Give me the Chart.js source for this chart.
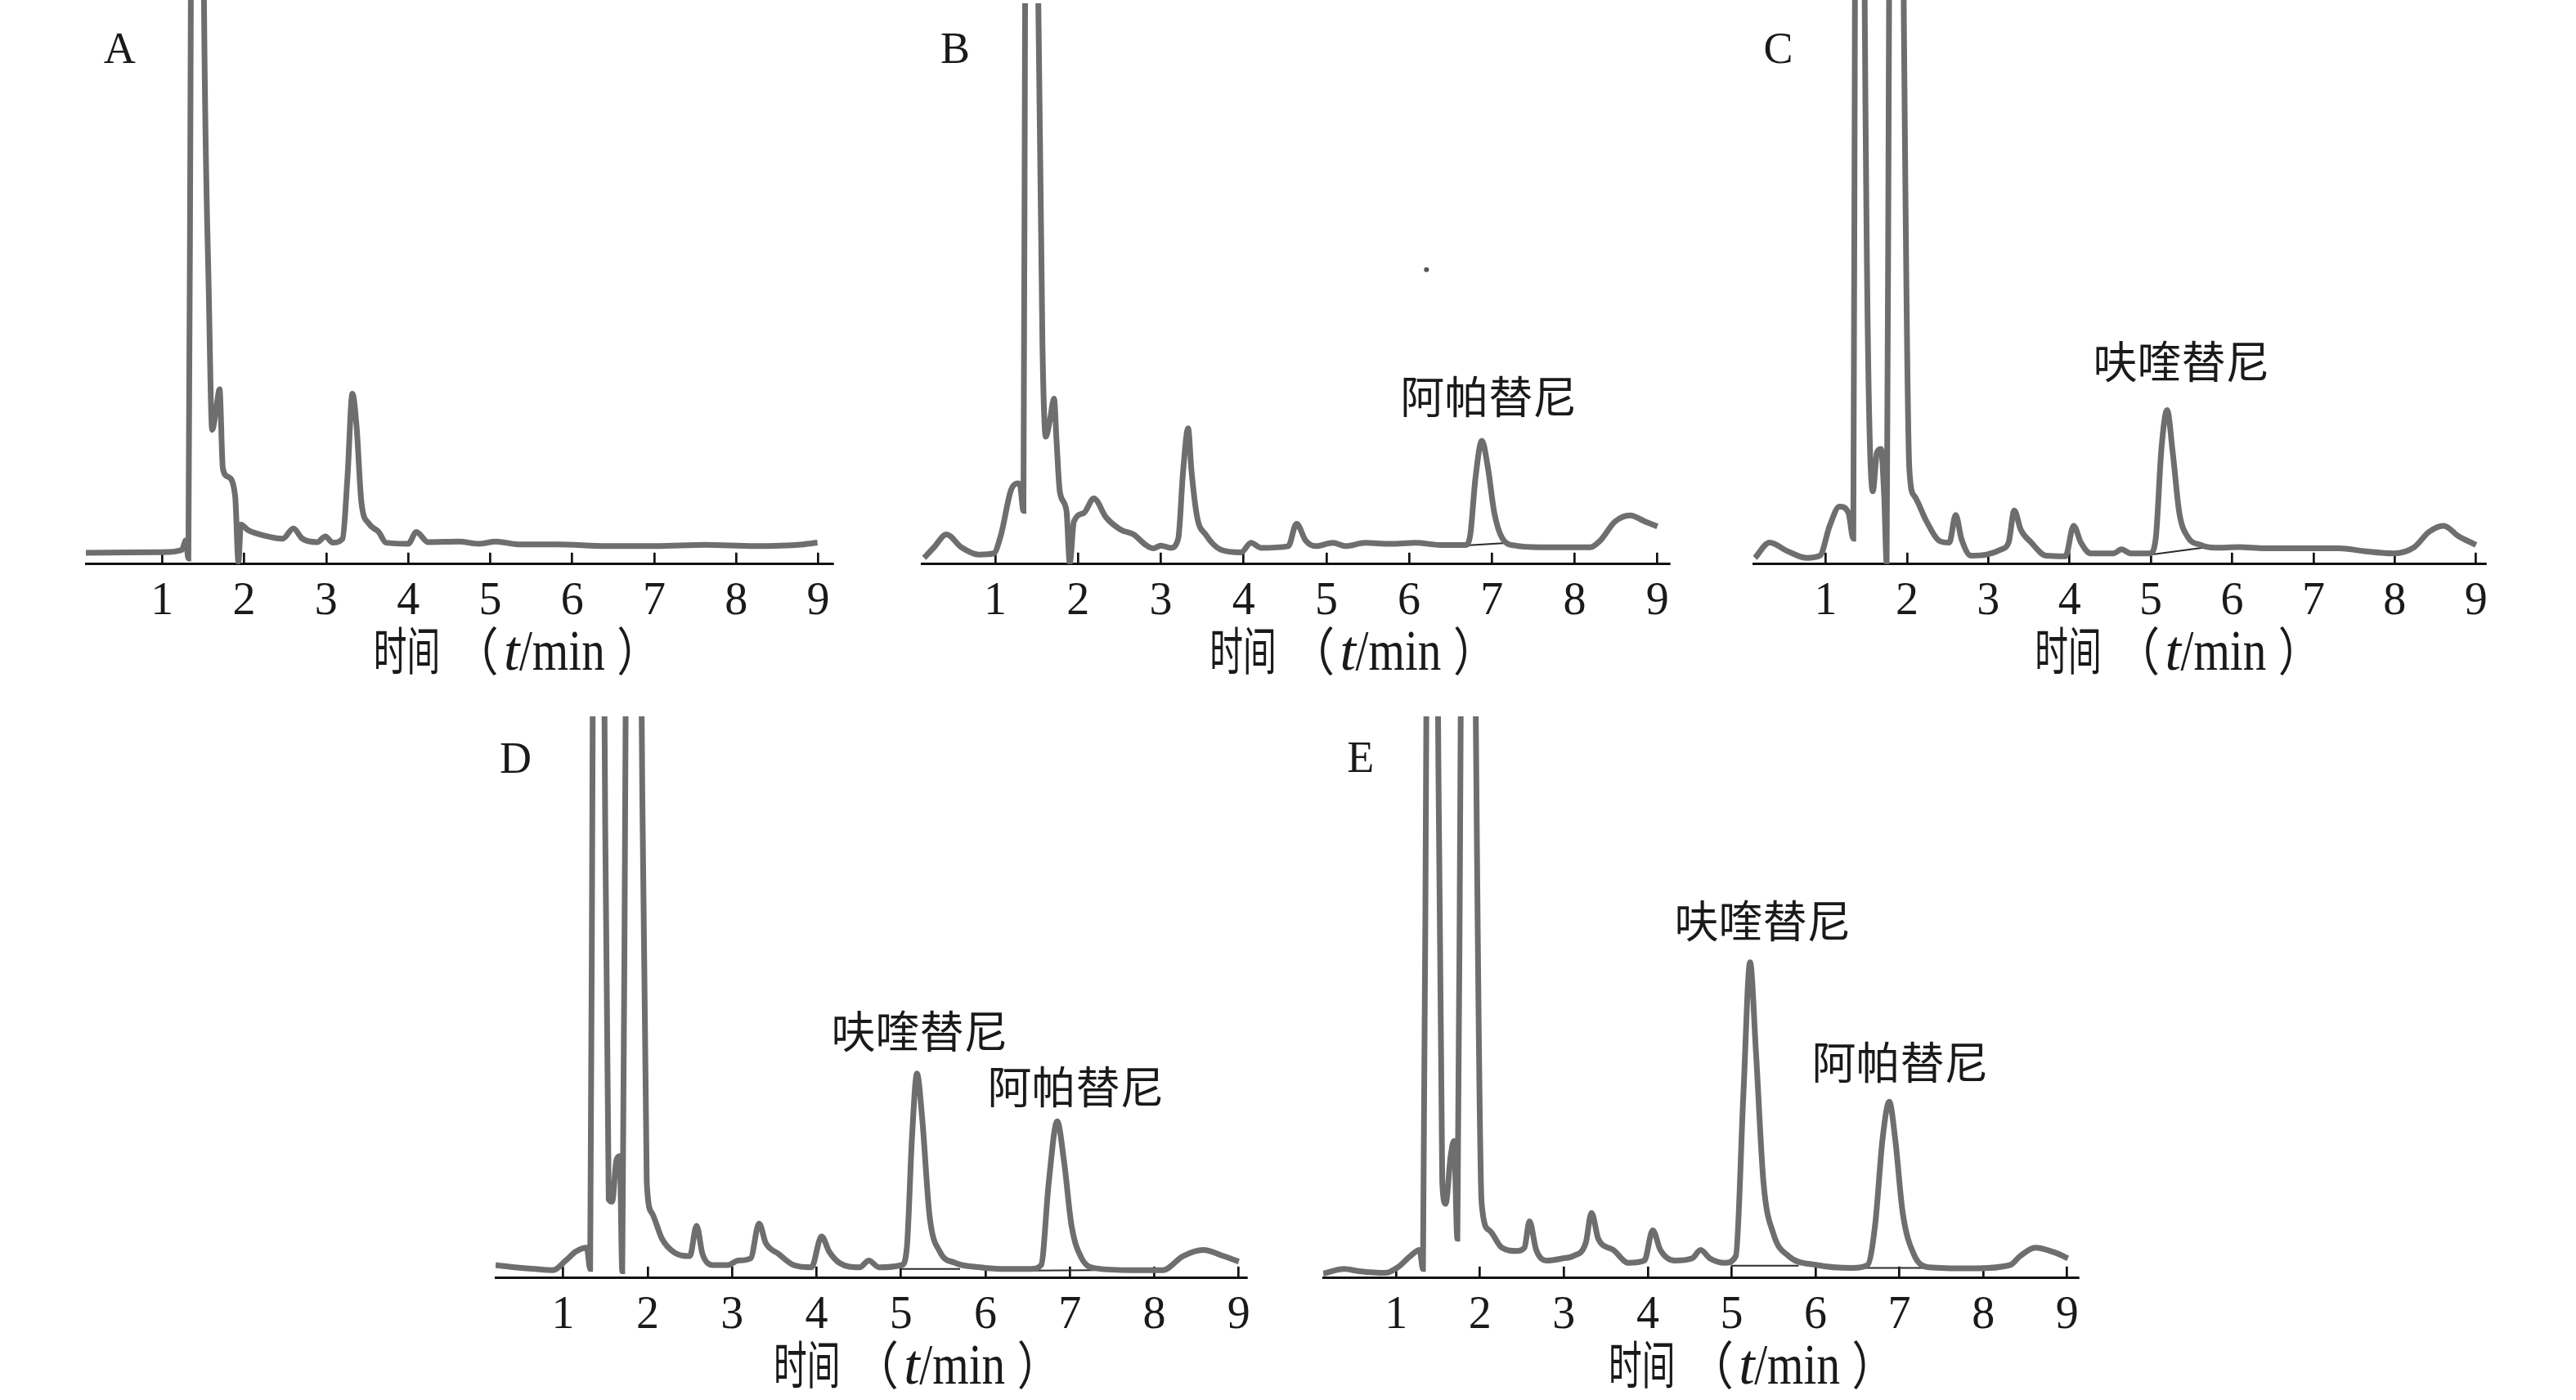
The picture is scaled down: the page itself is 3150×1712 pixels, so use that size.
<!DOCTYPE html>
<html>
<head>
<meta charset="utf-8">
<script src="https://cdn.jsdelivr.net/npm/chart.js@4.4.1/dist/chart.umd.min.js"></script>
<style>
  html, body { margin: 0; padding: 0; background: #fff; }
  body { width: 3150px; height: 1712px; position: relative; overflow: hidden; }
  canvas { position: absolute; }
</style>
</head>
<body>
<canvas id="chartA"></canvas>
<canvas id="chartB"></canvas>
<canvas id="chartC"></canvas>
<canvas id="chartD"></canvas>
<canvas id="chartE"></canvas>
<script>
// x ticks (min)
const tickValues = [1, 2, 3, 4, 5, 6, 7, 8, 9];
const tickLabels = ['1', '2', '3', '4', '5', '6', '7', '8', '9'];

// signal is in % of the plotted height; the solvent peaks run off the top
const timeA = [0.07, 1.00, 1.24, 1.29, 1.32, 1.35, 1.43, 1.51, 1.57, 1.61, 1.66, 1.70, 1.74, 1.80, 1.89, 1.93, 1.96, 2.05, 2.23, 2.47,
  2.60, 2.71, 2.89, 2.99, 3.08, 3.20, 3.26, 3.32, 3.37, 3.43, 3.52, 3.64, 3.73, 4.00, 4.10, 4.24, 4.62, 4.86, 5.07, 5.34,
  5.82, 6.42, 7.02, 7.62, 8.22, 8.82, 8.99];
const signalA = [2.0, 2.1, 2.5, 4.2, 1.0, 100, 300, 100, 47.2, 23.8, 27.6, 31.0, 17.0, 15.5, 12.1, 0.4, 7.0, 6.0, 5.1, 4.5,
  6.3, 4.5, 3.9, 4.9, 3.8, 4.5, 15.5, 30.2, 24.5, 10.9, 7.2, 5.7, 3.8, 3.6, 5.7, 3.9, 4.0, 3.6, 4.0, 3.5,
  3.5, 3.2, 3.2, 3.4, 3.2, 3.5, 3.8];

const timeB = [0.14, 0.26, 0.41, 0.59, 0.80, 0.98, 1.07, 1.19, 1.27, 1.30, 1.34, 1.36, 1.44, 1.52, 1.57, 1.61, 1.66, 1.71, 1.74, 1.78,
  1.86, 1.90, 1.95, 2.07, 2.19, 2.34, 2.52, 2.67, 2.82, 2.91, 3.00, 3.12, 3.21, 3.27, 3.33, 3.37, 3.44, 3.54, 3.72, 3.97,
  4.09, 4.21, 4.54, 4.64, 4.75, 4.87, 5.08, 5.23, 5.47, 5.77, 6.08, 6.38, 6.68, 6.74, 6.80, 6.88, 6.95, 7.03, 7.13, 7.28,
  7.58, 8.19, 8.31, 8.49, 8.67, 8.85, 9.00];
const signalB = [1.1, 3.0, 5.3, 3.0, 1.7, 1.9, 5.3, 13.2, 14.4, 14.0, 9.5, 100, 300, 100, 39.0, 22.7, 25.7, 29.5, 22.0, 12.9,
  9.5, 0.2, 7.6, 9.1, 11.7, 8.3, 6.1, 5.3, 3.4, 2.8, 3.3, 2.9, 4.5, 16.7, 24.2, 16.7, 8.3, 5.3, 2.6, 2.1,
  3.8, 2.9, 3.2, 7.2, 4.2, 3.2, 3.8, 3.2, 3.8, 3.6, 3.8, 3.4, 3.4, 5.3, 15.1, 22.0, 17.4, 9.1, 4.5, 3.3,
  3.0, 3.0, 4.2, 7.6, 8.7, 7.6, 6.7];

const timeC = [0.13, 0.31, 0.53, 0.77, 0.93, 1.05, 1.17, 1.28, 1.34, 1.36, 1.42, 1.48, 1.58, 1.63, 1.68, 1.72, 1.75, 1.78, 1.87, 1.96,
  2.03, 2.09, 2.24, 2.39, 2.52, 2.60, 2.67, 2.79, 2.98, 3.16, 3.25, 3.32, 3.40, 3.53, 3.71, 3.95, 4.05, 4.14, 4.26, 4.54,
  4.64, 4.75, 4.99, 5.06, 5.13, 5.20, 5.27, 5.35, 5.45, 5.61, 5.79, 6.09, 6.40, 7.32, 7.62, 7.99, 8.24, 8.42, 8.60, 8.79,
  9.00];
const signalC = [1.1, 3.8, 2.3, 1.1, 1.5, 6.8, 10.2, 9.1, 4.5, 100, 300, 100, 12.9, 19.7, 20.4, 12.0, 0.3, 100, 300, 100,
  16.7, 12.1, 7.6, 4.2, 3.8, 8.7, 4.5, 1.5, 1.7, 2.6, 3.8, 9.5, 6.1, 3.8, 1.5, 1.4, 6.8, 3.8, 1.9, 1.9,
  2.6, 1.9, 1.9, 4.5, 20.4, 27.3, 19.7, 9.1, 4.9, 3.4, 2.9, 3.0, 2.8, 2.8, 2.3, 1.9, 3.0, 5.7, 6.8, 4.9,
  3.4];

const timeD = [0.20, 0.43, 0.67, 0.88, 1.03, 1.15, 1.28, 1.32, 1.35, 1.42, 1.49, 1.54, 1.58, 1.63, 1.67, 1.70, 1.74, 1.84, 1.93, 1.99,
  2.05, 2.17, 2.32, 2.50, 2.58, 2.65, 2.77, 2.95, 3.07, 3.22, 3.32, 3.40, 3.55, 3.73, 3.94, 4.06, 4.15, 4.27, 4.51, 4.62,
  4.74, 5.01, 5.07, 5.13, 5.19, 5.25, 5.34, 5.46, 5.64, 5.94, 6.24, 6.54, 6.66, 6.75, 6.85, 6.93, 7.02, 7.14, 7.32, 7.74,
  8.10, 8.34, 8.58, 8.82, 9.00];
const signalD = [2.3, 1.9, 1.6, 1.4, 3.1, 4.7, 5.4, 1.6, 100, 300, 100, 14.0, 13.6, 20.9, 21.7, 1.2, 100, 300, 100, 17.0,
  11.6, 7.0, 4.5, 3.9, 9.3, 4.3, 2.3, 2.3, 3.1, 3.5, 9.7, 6.2, 4.3, 2.3, 1.9, 7.4, 4.7, 2.7, 1.9, 3.1,
  1.9, 2.3, 5.4, 24.8, 36.4, 28.7, 10.9, 4.7, 2.7, 1.9, 1.6, 1.6, 2.3, 17.0, 27.9, 20.9, 9.3, 3.5, 1.7, 1.4,
  1.4, 3.9, 5.0, 3.9, 2.9];

const timeE = [0.13, 0.38, 0.56, 0.87, 1.02, 1.17, 1.28, 1.32, 1.36, 1.43, 1.50, 1.55, 1.59, 1.65, 1.69, 1.73, 1.77, 1.86, 1.95, 2.02,
  2.11, 2.26, 2.44, 2.53, 2.59, 2.67, 2.80, 2.99, 3.11, 3.26, 3.33, 3.41, 3.59, 3.77, 3.96, 4.06, 4.15, 4.32, 4.53, 4.63,
  4.74, 4.92, 5.05, 5.14, 5.22, 5.29, 5.38, 5.50, 5.68, 6.02, 6.44, 6.62, 6.71, 6.80, 6.88, 6.95, 7.04, 7.17, 7.35, 7.83,
  8.32, 8.44, 8.62, 8.86, 9.01];
const signalE = [0.8, 1.6, 1.2, 0.9, 1.9, 3.9, 5.0, 1.6, 100, 300, 100, 17.0, 13.2, 21.7, 24.4, 7.0, 100, 300, 100, 13.2,
  8.5, 5.4, 4.8, 5.4, 10.1, 5.0, 3.1, 3.5, 3.9, 6.2, 11.6, 7.0, 5.0, 2.7, 3.1, 8.5, 5.0, 3.1, 3.5, 5.0,
  3.5, 2.7, 3.9, 32.6, 56.2, 40.3, 17.0, 7.8, 3.9, 2.3, 1.8, 2.3, 9.3, 24.8, 31.4, 24.8, 11.6, 4.3, 1.9, 1.7,
  2.3, 3.9, 5.4, 4.5, 3.5];

// integration baselines drawn under the labelled peaks
const baseTimeB = [[6.56, 7.22]];
const baseSignalB = [[3.2, 3.8]];
const baseTimeC = [[5.02, 5.70]];
const baseSignalC = [[1.7, 3.0]];
const baseTimeD = [[5.01, 5.70], [6.54, 7.29]];
const baseSignalD = [[1.6, 1.6], [1.3, 1.4]];
const baseTimeE = [[4.99, 5.80], [6.47, 7.32]];
const baseSignalE = [[2.2, 2.2], [1.8, 1.8]];

// stray speck in panel B
const dotTimeB = [6.21];
const dotSignalB = [52.5];

const panels = [
  { id: 'chartA', letter: 'A', time: timeA, signal: signalA, baseT: [], baseS: [], dotT: [], dotS: [],
    xmin: 0.07, xmax: 9.18, axisLeft: 105.3, axisRight: 1022.7, plotTop: 0, plotH: 690,
    letterX: 127, letterY: 77, titleT: 5.16, peaks: [] },
  { id: 'chartB', letter: 'B', time: timeB, signal: signalB, baseT: baseTimeB, baseS: baseSignalB, dotT: dotTimeB, dotS: dotSignalB,
    xmin: 0.11, xmax: 9.14, axisLeft: 1127.1, axisRight: 2048, plotTop: 0, plotH: 690,
    letterX: 1150, letterY: 77, titleT: 5.16, peaks: [{ name: '阿帕替尼', t: 6.96, h: 29.8 }] },
  { id: 'chartC', letter: 'C', time: timeC, signal: signalC, baseT: baseTimeC, baseS: baseSignalC, dotT: [], dotS: [],
    xmin: 0.11, xmax: 9.12, axisLeft: 2143.6, axisRight: 3049, plotTop: 0, plotH: 690,
    letterX: 2156, letterY: 77, titleT: 5.17, peaks: [{ name: '呋喹替尼', t: 5.375, h: 35.8 }] },
  { id: 'chartD', letter: 'D', time: timeD, signal: signalD, baseT: baseTimeD, baseS: baseSignalD, dotT: [], dotS: [],
    xmin: 0.20, xmax: 9.09, axisLeft: 606, axisRight: 1536, plotTop: 876, plotH: 687,
    letterX: 611, letterY: 945, titleT: 5.03, peaks: [{ name: '呋喹替尼', t: 5.22, h: 43.8 }, { name: '阿帕替尼', t: 7.07, h: 33.9 }] },
  { id: 'chartE', letter: 'E', time: timeE, signal: signalE, baseT: baseTimeE, baseS: baseSignalE, dotT: [], dotS: [],
    xmin: 0.13, xmax: 9.13, axisLeft: 1617.8, axisRight: 2549, plotTop: 876, plotH: 687,
    letterX: 1647, letterY: 944, titleT: 5.08, peaks: [{ name: '呋喹替尼', t: 5.37, h: 63.5 }, { name: '阿帕替尼', t: 7.01, h: 38.3 }] }
];

const SIDE_PAD = 20;
const BOTTOM_PAD = 45;
const TICK_FONT = 56;
const TICK_PAD = 27;
const AXIS_H = -14 + TICK_FONT * 1.2 + 2 * TICK_PAD;
const CJK = '"Noto Sans CJK SC", sans-serif';
const SERIF = '"Liberation Serif", "Times New Roman", serif';

// axis title 时间（t/min）: the original typesetting is narrow, so each piece
// is fitted to its ink box (left, width) measured from the reference
const TITLE_W = 311;
const titleParts = [
  { s: '时间', f: '63px ' + CJK, cjk: true, left: 0, width: 75 },
  { s: '（', f: '63px ' + CJK, cjk: true, left: 132, width: 16 },
  { s: 't', f: 'italic 70px ' + SERIF, cjk: false, left: 159, width: 18 },
  { s: '/min', f: '70px ' + SERIF, cjk: false, left: 175, width: 104 },
  { s: '）', f: '63px ' + CJK, cjk: true, left: 296, width: 15 }
];

function textPlugin(p, left, top) {
  return {
    id: 'panelText',
    afterDraw(chart) {
      const ctx = chart.ctx;
      const xs = chart.scales.x;
      const ys = chart.scales.y;
      const axisY = chart.chartArea.bottom;
      ctx.save();
      ctx.fillStyle = '#1a1a1a';

      ctx.font = '54px ' + SERIF;
      ctx.textAlign = 'left';
      ctx.textBaseline = 'alphabetic';
      ctx.fillText(p.letter, p.letterX - left, p.letterY - top);

      ctx.font = '54px ' + CJK;
      ctx.textAlign = 'center';
      ctx.textBaseline = 'middle';
      p.peaks.forEach(k => ctx.fillText(k.name, xs.getPixelForValue(k.t), ys.getPixelForValue(k.h)));

      ctx.textAlign = 'left';
      ctx.textBaseline = 'alphabetic';
      const x0 = xs.getPixelForValue(p.titleT) - TITLE_W / 2;
      titleParts.forEach(q => {
        ctx.font = q.f;
        const m = ctx.measureText(q.s);
        const ink = m.actualBoundingBoxLeft + m.actualBoundingBoxRight;
        const sx = q.width / ink;
        const y = q.cjk
          ? axisY + 106 + (m.actualBoundingBoxAscent - m.actualBoundingBoxDescent) / 2
          : axisY + 129;
        ctx.save();
        ctx.translate(x0 + q.left, y);
        ctx.scale(sx, 1);
        ctx.fillText(q.s, m.actualBoundingBoxLeft, 0);
        ctx.restore();
      });
      ctx.restore();
    }
  };
}

panels.forEach(p => {
  const canvas = document.getElementById(p.id);
  const left = p.axisLeft - SIDE_PAD;
  const top = p.plotTop;
  const w = Math.round(p.axisRight - p.axisLeft + 2 * SIDE_PAD);
  const h = Math.round(p.plotH + AXIS_H + BOTTOM_PAD);
  canvas.width = w;
  canvas.height = h;
  canvas.style.left = left + 'px';
  canvas.style.top = top + 'px';
  canvas.style.width = w + 'px';
  canvas.style.height = h + 'px';

  const datasets = [{
    data: p.time.map((t, i) => ({ x: t, y: p.signal[i] })),
    borderColor: '#6e6e6e',
    borderWidth: 7,
    pointRadius: 0,
    cubicInterpolationMode: 'monotone',
    fill: false
  }];
  p.baseT.forEach((seg, j) => {
    datasets.push({
      data: seg.map((t, i) => ({ x: t, y: p.baseS[j][i] })),
      borderColor: '#2b2b2b',
      borderWidth: 2,
      pointRadius: 0,
      tension: 0,
      fill: false
    });
  });
  if (p.dotT.length) {
    datasets.push({
      data: p.dotT.map((t, i) => ({ x: t, y: p.dotS[i] })),
      showLine: false,
      pointRadius: 3,
      pointBackgroundColor: '#555',
      pointBorderWidth: 0
    });
  }

  new Chart(canvas, {
    type: 'line',
    data: { datasets: datasets },
    options: {
      responsive: false,
      animation: false,
      events: [],
      layout: { padding: { left: SIDE_PAD, right: SIDE_PAD, top: 0, bottom: BOTTOM_PAD } },
      plugins: { legend: { display: false }, tooltip: { enabled: false }, title: { display: false } },
      scales: {
        x: {
          type: 'linear',
          min: p.xmin,
          max: p.xmax,
          afterBuildTicks: scale => { scale.ticks = tickValues.map(v => ({ value: v })); },
          ticks: {
            autoSkip: false,
            maxRotation: 0,
            padding: TICK_PAD,
            color: '#1a1a1a',
            font: { family: SERIF, size: TICK_FONT },
            callback: (v, i) => tickLabels[i]
          },
          grid: { drawOnChartArea: false, drawTicks: true, tickLength: -14, color: '#111', lineWidth: 2.7 },
          border: { display: true, color: '#111', width: 3 }
        },
        y: { display: false, min: 0, max: 100 }
      }
    },
    plugins: [textPlugin(p, left, top)]
  });
});
</script>
</body>
</html>
